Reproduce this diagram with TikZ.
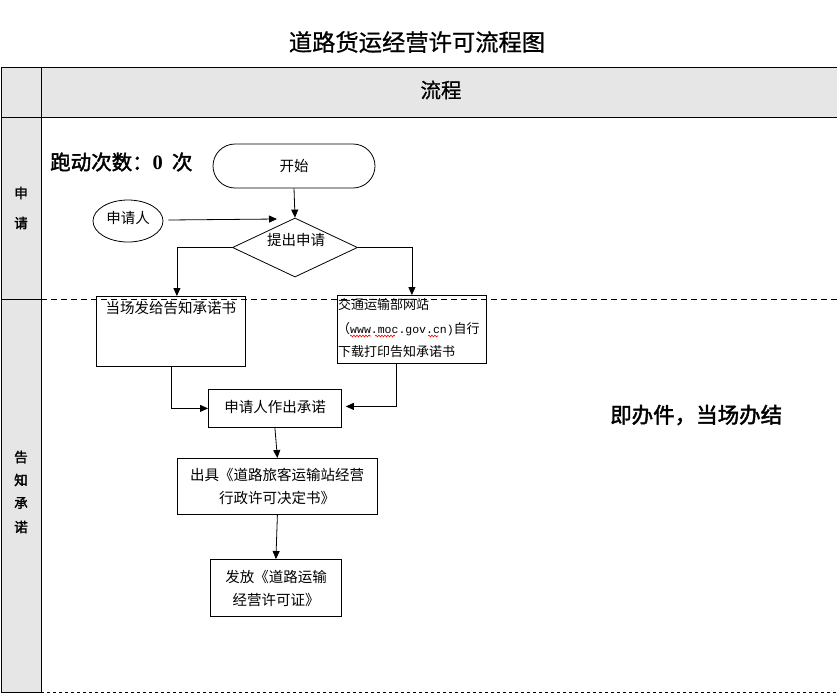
\documentclass[tikz,border=0pt]{standalone}
\usepackage{fontspec}
\newfontfamily\cjk{Noto Sans CJK SC}
\newfontfamily\cjkb[FakeBold=2]{Noto Sans CJK SC}
\newfontfamily\cjkm[FakeBold=0.8]{Noto Sans CJK SC}
\newfontfamily\monof{Liberation Mono}
\newfontfamily\serifb{Liberation Serif}
\usetikzlibrary{arrows.meta,shapes.geometric,decorations.pathmorphing,calc}
\definecolor{lanegray}{HTML}{E6E6E6}
\begin{document}
\begin{tikzpicture}[x=1pt,y=-1pt,
  every node/.style={inner sep=0pt, font=\cjk},
  arr/.style={-{Triangle[length=8pt,width=7pt]}, line width=0.8pt},
  boxs/.style={draw, line width=0.8pt, rectangle, anchor=north west},
  txt/.style={font=\cjk\fontsize{14.5}{23}\selectfont, align=center},
  lane/.style={font=\cjkb\fontsize{13.5}{16}\selectfont},
  big/.style={font=\cjkb\fontsize{21.5}{23}\selectfont, anchor=west},
  squig/.style={draw=red, line width=0.6pt, decorate, decoration={snake, amplitude=0.9pt, segment length=3pt}}]
\useasboundingbox (0,0) rectangle (837,694);
% table
\fill[lanegray] (1,67) rectangle (837,117);
\fill[lanegray] (1,117) rectangle (41,692);
\draw[line width=1pt] (1,67) -- (837,67);
\draw[line width=1pt] (1,117) -- (837,117);
\draw[line width=1pt] (1,67) -- (1,692) -- (41,692);
\draw[line width=1pt] (41,67) -- (41,692);
\draw[line width=1pt] (1,299) -- (41,299);
\draw[dash pattern=on 6pt off 4pt, line width=0.8pt] (41,299) -- (837,299);
\draw[dash pattern=on 3pt off 3pt, line width=0.8pt] (41,692) -- (837,692);
% title and header
\node[font=\cjkm\fontsize{23.3}{25}\selectfont] (title) at (417,42) {道路货运经营许可流程图};
\node[font=\cjkm\fontsize{20.5}{22}\selectfont] (hdr) at (441,90) {流程};
% lane labels
\node[lane] (l1) at (21,193) {申};
\node[lane] (l2) at (21,223) {请};
\node[lane] (l3) at (21,457) {告};
\node[lane] (l4) at (21,480) {知};
\node[lane] (l5) at (21,503) {承};
\node[lane] (l6) at (21,527) {诺};
% notes
\node[big, font=\cjkb\fontsize{20.5}{23}\selectfont] (runs) at (50,162) {跑动次数：{\serifb\bfseries 0}\hspace{9pt}次};
\node[big] (done) at (610,415) {即办件，当场办结};
% shapes
\node[draw, line width=0.8pt, rounded corners=22pt, minimum width=162pt, minimum height=44pt, txt] (start) at (294,166) {开始};
\node[draw, line width=0.8pt, ellipse, minimum width=70pt, minimum height=42pt] (app) at (128,221) {};
\node[txt] (appt) at (128,218) {申请人};
\node[draw, line width=0.8pt, diamond, minimum width=125pt, minimum height=59pt] (dia) at (295,247.5) {};
\node[txt] (diat) at (296,240) {提出申请};
\node[boxs, minimum width=149pt, minimum height=70pt] (box1) at (96,296) {};
\node[txt, anchor=north] (box1t) at ([yshift=-5pt]box1.north) {当场发给告知承诺书};
\node[boxs, minimum width=149pt, minimum height=68pt] (box2) at (337,295) {};
\node[font=\cjk\fontsize{13}{15}\selectfont, anchor=west] (b2a) at (338,305) {交通运输部网站};
\node[font=\cjk\fontsize{13}{15}\selectfont, anchor=west] (b2b) at (337,329) {（{\monof\fontsize{11.5}{13}\selectfont www.moc.gov.cn)}自行};
\node[font=\cjk\fontsize{13}{15}\selectfont, anchor=west] (b2c) at (338,352) {下载打印告知承诺书};
\node[boxs, minimum width=133pt, minimum height=38pt, txt] (promise) at (208,389) {};
\node[txt] (promt) at (275,407) {申请人作出承诺};
\node[boxs, minimum width=200pt, minimum height=56pt] (issue) at (177,458) {};
\node[txt] (issuet) at (277,486) {出具《道路旅客运输站经营\\行政许可决定书》};
\node[boxs, minimum width=131pt, minimum height=57pt] (permit) at (210,559) {};
\node[txt] (permitt) at (276,588) {发放《道路运输\\经营许可证》};
% squiggles
\coordinate (s1a) at (350,336); \coordinate (s1b) at (371,336);
\coordinate (s2a) at (375,336); \coordinate (s2b) at (395,336);
\coordinate (s3a) at (428,336); \coordinate (s3b) at (438,336);
\draw[squig] (s1a) -- (s1b);
\draw[squig] (s2a) -- (s2b);
\draw[squig] (s3a) -- (s3b);
% connectors
\coordinate (appEnd) at (277,219);
\draw[arr] (start.south) -- (dia.north);
\draw[arr] ([yshift=1pt]app.east) ++(5,0) -- (appEnd);
\draw[arr] (dia.west) -| ([xshift=6pt]box1.north);
\draw[arr] (dia.east) -| (box2.north);
\draw[arr] (box1.south) |- (promise.west);
\draw[arr] ([xshift=-15.5pt]box2.south) |- ([xshift=4pt,yshift=2pt]promise.east);
\draw[arr] (promise.south) -- (issue.north);
\draw[arr] (issue.south) -- (permit.north);
\end{tikzpicture}
\end{document}
